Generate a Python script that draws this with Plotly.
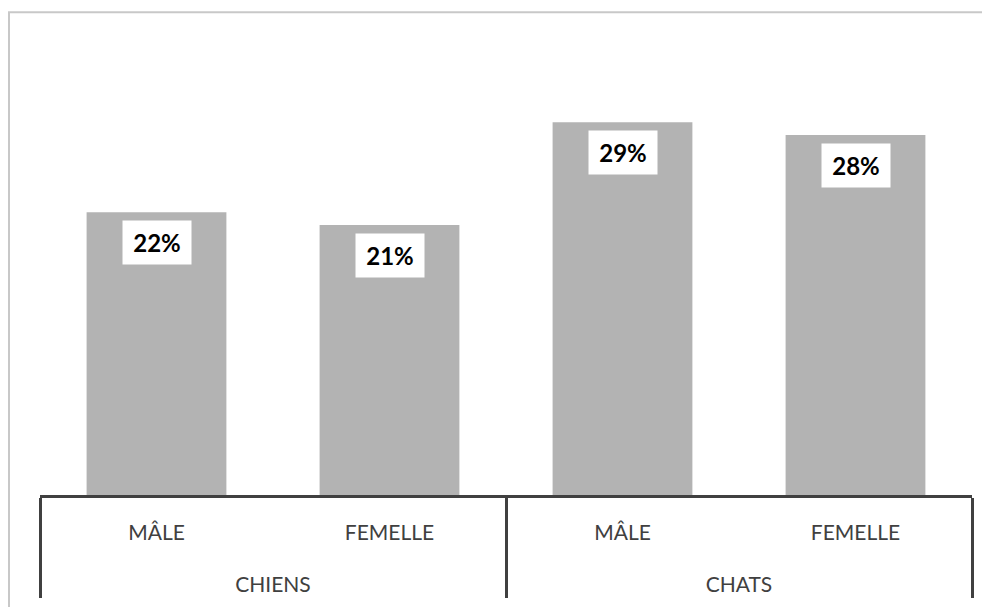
import plotly.graph_objects as go

groups = ["CHIENS", "CHIENS", "CHATS", "CHATS"]
sexes = ["MÂLE", "FEMELLE", "MÂLE", "FEMELLE"]
values = [22, 21, 29, 28]
labels = ["22%", "21%", "29%", "28%"]

LBL = "<span style='font-size:21px'>%s</span>"
# a blank second line under the first-level labels widens the gap to the group labels
sex_ticks = [LBL % s + "<br>\u00a0" for s in sexes]
group_ticks = [LBL % g for g in groups]

fig = go.Figure()
fig.add_trace(go.Bar(
    x=[group_ticks, sex_ticks], y=values,
    marker=dict(color="#b3b3b3", line=dict(width=0)),
    hoverinfo="skip",
))

for i, (v, t) in enumerate(zip(values, labels)):
    fig.add_annotation(
        x=i, y=v, xref="x", yref="y", text="<b>%s</b>" % t,
        showarrow=False, yanchor="top", yshift=-8,
        bgcolor="white", width=68, height=43, borderpad=0,
        font=dict(family="Lato, Carlito, sans-serif", size=24, color="black"),
    )

# page body adds an 8px offset, so the figure is sized to the remaining window
W, H = 982, 599
L, R, T, B = 32, 18, 37, 110
pw, ph = W - L - R, H - T - B

def px(xp):
    return (xp - L) / pw

def py(yp):
    return (H - B - yp) / ph

fig.add_shape(type="line", xref="paper", yref="paper",
              x0=px(0), x1=px(W + 20), y0=py(4), y1=py(4),
              line=dict(color="#c8c8c8", width=2))
fig.add_shape(type="line", xref="paper", yref="paper",
              x0=px(1), x1=px(1), y0=py(4), y1=py(H + 20),
              line=dict(color="#c8c8c8", width=2))

fig.update_layout(
    width=W, height=H,
    margin=dict(l=L, r=R, t=T, b=B),
    paper_bgcolor="white", plot_bgcolor="white",
    bargap=0.4, showlegend=False,
    font=dict(family="Lato, Carlito, sans-serif", size=21, color="#404040"),
)
fig.update_xaxes(
    type="multicategory", showline=True, linewidth=3, linecolor="#404040",
    showdividers=True, dividercolor="#404040", dividerwidth=3,
    ticks="", ticklabelstandoff=11,
    tickfont=dict(size=26, color="#404040"), showgrid=False,
)
fig.update_yaxes(range=[0, 35], visible=False, showgrid=False, zeroline=False)

fig.write_html("out.html")
